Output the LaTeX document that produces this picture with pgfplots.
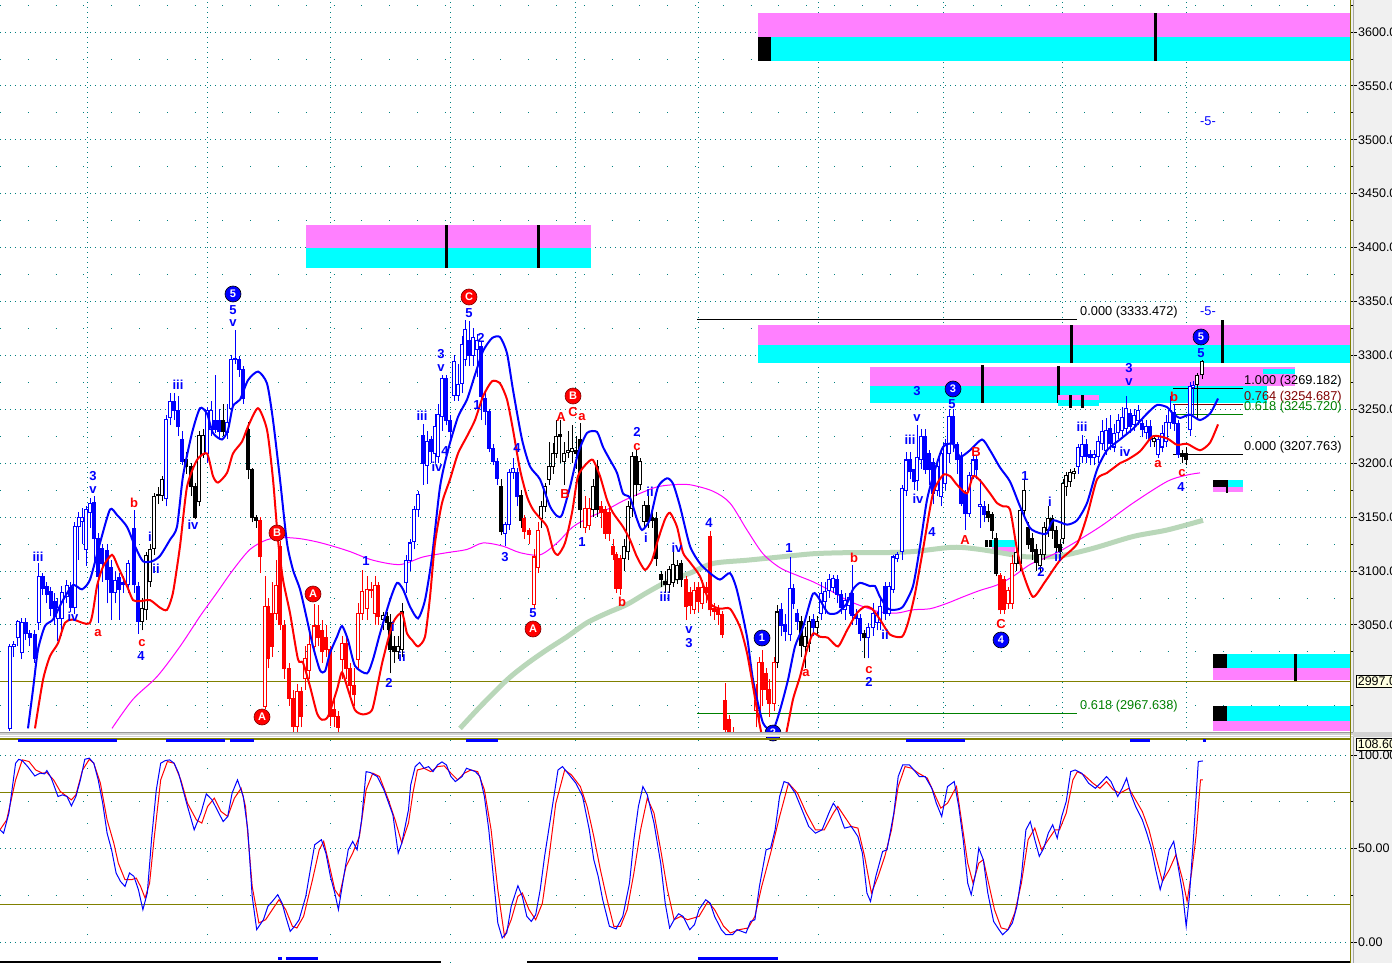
\documentclass[border=0pt]{standalone}
\usepackage{pgfplots}
\pgfplotsset{compat=1.18}
\usepackage{pgfplotstable}
\usepackage{fontspec}
\setmainfont{Liberation Sans}
\definecolor{pinkbox}{RGB}{255,128,255}
\definecolor{cyanbox}{RGB}{0,255,255}
\definecolor{gridteal}{RGB}{0,128,128}
\definecolor{olive2}{RGB}{128,128,0}
\definecolor{magline}{RGB}{255,0,255}
\definecolor{greenma}{RGB}{185,215,185}
\definecolor{darkred2}{RGB}{128,0,0}
\definecolor{fibgreen}{RGB}{0,128,0}
\definecolor{bluec}{RGB}{0,0,255}
\definecolor{redc}{RGB}{255,0,0}
\definecolor{rightbg}{RGB}{240,240,240}
\definecolor{lblbg}{RGB}{255,255,225}
\newcommand{\ticklblfont}{\fontsize{12.5}{13}\selectfont}
\newcommand{\wavefont}{\fontsize{13}{13}\selectfont\bfseries}
\newcommand{\circfont}{\fontsize{11}{11}\selectfont\bfseries}
\newcommand{\fibfont}{\fontsize{12.8}{13}\selectfont}

% ---------- candles: x open high low close ----------
\pgfplotstableread{
x o h l c
10 2954 3032 2952 3030
14 3030 3035 3020 3032
18 3038 3055 3030 3053
22 3024 3056 3018 3052
26 3052 3056 3036 3042
30 3042 3045 3030 3038
35 3041 3045 3015 3019
39 3052 3107 3045 3095
43 3095 3098 3078 3084
47 3086 3090 3070 3078
51 3081 3085 3058 3065
55 3072 3080 3050 3058
58 3056 3075 3035 3066
62 3056 3086 3040 3080
67 3076 3092 3070 3087
71 3085 3090 3062 3066
75 3066 3145 3060 3141
79 3141 3155 3110 3150
82 3146 3158 3125 3150
86 3120 3160 3105 3157
90 3154 3168 3140 3163
94 3164 3170 3105 3130
98 3130 3135 3052 3095
102 3121 3125 3090 3107
107 3119 3125 3070 3092
111 3103 3110 3055 3080
115 3080 3100 3070 3091
119 3094 3098 3055 3083
123 3089 3095 3080 3087
128 3087 3110 3080 3107
134 3139 3157 3080 3087
138 3086 3090 3042 3053
166 3167 3245 3160 3241
170 3242 3265 3235 3257
174 3257 3265 3240 3249
178 3249 3262 3225 3234
182 3222 3230 3198 3202
207 3209 3252 3200 3249
211 3231 3258 3225 3249
215 3240 3282 3228 3231
219 3240 3250 3222 3229
227 3228 3255 3222 3238
231 3251 3300 3245 3296
235 3296 3324 3292 3297
239 3296 3299 3280 3287
243 3287 3290 3255 3260
406 3089 3115 3080 3110
410 3110 3130 3100 3126
414 3127 3160 3120 3157
418 3157 3174 3150 3171
423 3226 3236 3180 3200
427 3198 3230 3181 3220
431 3222 3225 3200 3211
435 3209 3246 3200 3234
438 3206 3255 3200 3245
442 3243 3282 3230 3279
446 3279 3282 3235 3240
450 3240 3245 3222 3229
454 3263 3300 3258 3294
458 3263 3292 3258 3273
462 3274 3318 3265 3310
465 3296 3333 3290 3324
469 3314 3332 3290 3300
473 3300 3325 3290 3317
477 3305 3320 3280 3314
481 3308 3312 3240 3262
485 3260 3265 3235 3248
489 3248 3250 3210 3214
493 3214 3218 3198 3202
497 3202 3205 3180 3186
505 3135 3145 3123 3143
509 3143 3195 3138 3191
513 3191 3205 3185 3195
517 3191 3196 3160 3169
781 3064 3070 3040 3049
785 3050 3060 3035 3044
790 3041 3113 3035 3084
793 3084 3088 3065 3070
797 3061 3065 3045 3053
813 3055 3060 3040 3048
821 3061 3090 3055 3079
825 3072 3090 3060 3081
829 3082 3097 3075 3092
833 3085 3096 3080 3093
837 3092 3096 3070 3078
841 3078 3082 3060 3066
845 3064 3080 3055 3073
849 3068 3080 3060 3075
852 3079 3106 3050 3059
856 3060 3065 3050 3056
860 3056 3060 3035 3042
868 3038 3052 3019 3048
873 3048 3070 3040 3061
877 3052 3062 3045 3059
880 3052 3075 3045 3067
885 3086 3090 3055 3061
889 3061 3090 3058 3086
893 3083 3115 3080 3113
897 3112 3118 3108 3115
902 3118 3180 3110 3177
906 3175 3210 3170 3203
910 3203 3210 3185 3192
914 3194 3195 3175 3183
917 3184 3235 3175 3205
921 3203 3232 3195 3225
925 3225 3232 3190 3194
929 3209 3212 3180 3194
933 3201 3205 3162 3172
937 3175 3200 3170 3197
941 3169 3212 3160 3209
945 3181 3222 3175 3218
949 3209 3250 3200 3243
953 3243 3250 3210 3218
957 3217 3220 3190 3203
961 3205 3210 3160 3163
965 3172 3175 3138 3153
969 3153 3192 3150 3189
973 3189 3208 3185 3203
976 3203 3208 3185 3194
980 3160 3185 3140 3162
984 3160 3165 3145 3152
1078 3197 3218 3190 3215
1082 3206 3226 3200 3217
1086 3217 3222 3200 3206
1090 3208 3212 3198 3205
1094 3205 3212 3198 3208
1098 3206 3225 3200 3220
1102 3218 3240 3212 3229
1106 3212 3242 3208 3230
1110 3232 3245 3212 3218
1114 3215 3236 3210 3228
1118 3228 3246 3222 3240
1122 3230 3252 3225 3242
1126 3232 3262 3228 3251
1130 3246 3250 3228 3234
1134 3236 3250 3230 3244
1138 3240 3254 3235 3249
1142 3237 3240 3224 3231
1146 3228 3240 3222 3234
1150 3234 3240 3215 3222
1158 3208 3226 3205 3222
1162 3215 3235 3210 3228
1166 3220 3245 3215 3238
1170 3238 3262 3232 3249
1174 3247 3255 3230 3237
1178 3237 3240 3205 3208
1190 3231 3275 3225 3271
1193 3270 3276 3245 3272
}\tblue

\pgfplotstableread{
x o h l c
142 3053 3075 3045 3065
146 3064 3118 3055 3114
150 3090 3125 3085 3120
154 3121 3172 3115 3169
158 3170 3178 3162 3171
162 3170 3188 3165 3185
186 3203 3210 3190 3197
191 3197 3200 3170 3178
195 3178 3182 3148 3150
199 3164 3230 3160 3226
203 3208 3232 3205 3226
223 3240 3255 3225 3229
248 3231 3238 3185 3194
252 3194 3196 3145 3150
256 3150 3152 3140 3147
383 3055 3062 3045 3059
387 3058 3062 3045 3052
390 3052 3060 3005 3027
394 3030 3040 3015 3025
398 3025 3040 3018 3030
402 3027 3070 3020 3062
501 3178 3185 3133 3137
521 3170 3175 3140 3147
541 3149 3165 3140 3160
545 3160 3182 3155 3178
549 3185 3220 3180 3197
553 3197 3219 3190 3209
556 3209 3240 3205 3225
560 3227 3240 3200 3225
564 3202 3220 3180 3209
568 3210 3230 3205 3212
572 3211 3235 3200 3214
576 3212 3225 3195 3209
580 3222 3237 3140 3157
593 3157 3185 3150 3178
597 3197 3203 3150 3157
624 3112 3130 3100 3123
628 3118 3165 3110 3160
632 3158 3210 3150 3206
636 3206 3212 3170 3180
640 3180 3205 3175 3202
644 3146 3165 3140 3161
648 3161 3170 3140 3146
652 3150 3155 3140 3147
656 3149 3155 3105 3112
661 3097 3100 3085 3092
665 3090 3100 3080 3087
669 3087 3105 3080 3101
673 3089 3120 3085 3106
677 3092 3110 3088 3105
681 3107 3110 3085 3092
777 3015 3068 3010 3062
801 3053 3058 3020 3031
805 3030 3048 3010 3039
809 3033 3058 3025 3053
817 3048 3058 3042 3053
864 3042 3045 3019 3038
988 3155 3162 3145 3150
992 3152 3155 3130 3138
996 3130 3135 3095 3098
1016 3107 3120 3100 3117
1020 3107 3160 3100 3156
1024 3156 3185 3150 3175
1028 3140 3145 3120 3125
1032 3130 3135 3110 3118
1036 3120 3125 3100 3108
1040 3105 3120 3098 3115
1044 3115 3145 3110 3140
1048 3138 3160 3132 3149
1052 3149 3152 3130 3138
1056 3138 3142 3118 3122
1060 3125 3130 3112 3118
1063 3130 3185 3125 3181
1066 3178 3192 3170 3189
1070 3183 3195 3178 3191
1074 3190 3196 3185 3192
1154 3220 3226 3215 3223
1182 3209 3212 3200 3206
1186 3209 3215 3198 3203
1197 3273 3284 3240 3281
1202 3282 3296 3278 3294
}\tblack

\pgfplotstableread{
x o h l c
260 3147 3150 3098 3113
265 2974 3095 2972 3067
268 3067 3075 3010 3019
272 3061 3090 3020 3030
276 3061 3110 3055 3087
280 3123 3128 3045 3050
284 3049 3055 3000 3010
289 3010 3015 2975 2982
293 2982 2990 2950 2956
297 2956 2995 2950 2988
301 2988 2992 2955 2965
305 3000 3030 2990 3019
309 3008 3045 3000 3032
314 3030 3069 3025 3049
318 3049 3068 3030 3038
322 3045 3055 3015 3025
326 3038 3050 3020 3027
330 3027 3030 2956 2965
334 2972 2980 2955 2965
338 2965 2970 2950 2955
342 3018 3040 3000 3033
346 3033 3040 3000 3010
350 3010 3015 2985 2994
354 2994 3010 2975 2985
358 3018 3070 3010 3061
362 3061 3101 3055 3081
367 3065 3095 3055 3083
371 3083 3090 3075 3082
375 3061 3095 3050 3087
378 3087 3090 3050 3058
524 3149 3152 3130 3137
529 3138 3140 3125 3134
534 3069 3120 3065 3113
538 3103 3145 3098 3138
585 3140 3170 3135 3158
589 3142 3168 3138 3158
601 3160 3165 3140 3154
605 3157 3160 3130 3135
609 3154 3158 3128 3135
613 3123 3130 3110 3115
616 3115 3118 3080 3084
620 3112 3115 3078 3084
686 3092 3095 3055 3067
690 3080 3085 3060 3068
694 3064 3090 3060 3082
698 3085 3090 3062 3072
702 3070 3092 3065 3085
706 3085 3090 3070 3080
710 3132 3137 3058 3064
714 3065 3070 3055 3062
718 3064 3068 3050 3060
722 3060 3063 3038 3041
725 2980 2996 2940 2953
729 2962 2966 2940 2950
733 2950 2955 2930 2940
738 2945 2950 2925 2935
742 2930 2948 2920 2945
746 2940 2945 2925 2930
750 2928 2945 2920 2940
756 2971 2995 2955 2980
759 2971 3020 2955 3015
762 3015 3027 2975 2990
766 3005 3010 2980 2990
769 2990 3000 2965 2977
774 2977 3020 2970 3015
1000 3096 3098 3060 3064
1004 3092 3095 3060 3064
1008 3070 3085 3065 3082
1012 3070 3115 3065 3107
}\tred

% ---------- indicator lines ----------
\pgfplotstableread{
x y
28 2954
33 2990
38 3027
45 3049
53 3055
63 3073
73 3087
82 3083
90 3092
100 3126
110 3157
117 3152
127 3141
135 3123
143 3109
152 3109
160 3114
170 3129
177 3141
183 3188
192 3228
200 3251
207 3246
213 3228
222 3222
228 3231
233 3253
240 3259
248 3277
258 3285
267 3274
273 3240
280 3185
287 3126
293 3101
300 3083
307 3055
313 3030
320 3008
325 3007
330 3024
337 3039
342 3049
348 3036
355 3012
367 3005
373 3018
380 3042
390 3073
397 3089
403 3083
410 3067
418 3056
425 3073
432 3113
440 3178
448 3212
458 3243
467 3259
475 3282
483 3304
492 3316
500 3317
507 3302
513 3268
522 3222
530 3197
540 3185
550 3160
557 3151
562 3152
570 3178
578 3209
587 3228
597 3229
603 3215
610 3203
617 3191
623 3172
630 3168
637 3148
642 3138
650 3148
658 3178
667 3186
673 3181
680 3160
690 3123
700 3107
710 3098
720 3092
730 3098
737 3082
747 3039
753 2999
763 2959
773 2953
780 2971
788 2999
795 3030
803 3048
813 3079
820 3073
828 3061
837 3061
847 3070
853 3083
860 3089
870 3086
875 3086
880 3076
888 3065
895 3064
903 3067
913 3086
920 3123
927 3166
935 3194
943 3215
953 3218
960 3206
970 3212
982 3222
990 3212
1000 3196
1010 3183
1020 3160
1030 3140
1040 3135
1047 3135
1053 3147
1067 3143
1077 3147
1087 3163
1097 3194
1107 3212
1120 3222
1133 3232
1147 3246
1157 3254
1167 3252
1173 3246
1180 3242
1190 3245
1200 3240
1210 3246
1218 3260
}\tbandup

\pgfplotstableread{
x y
35 2954
43 2999
50 3021
58 3033
65 3052
73 3055
90 3052
97 3086
103 3104
112 3115
118 3104
127 3086
133 3073
140 3072
150 3073
160 3066
167 3064
173 3080
180 3123
187 3178
197 3203
207 3209
213 3188
218 3182
227 3191
233 3209
242 3220
248 3234
258 3251
267 3231
273 3185
278 3129
283 3092
290 3061
298 3018
303 3015
310 2993
317 2968
322 2962
328 2965
337 2990
342 3006
348 2990
355 2971
363 2967
372 2971
378 2996
383 3018
393 3052
402 3061
407 3042
412 3036
418 3030
425 3039
430 3076
435 3126
442 3163
450 3185
458 3209
467 3225
475 3240
483 3262
492 3276
500 3274
507 3259
513 3231
520 3194
527 3169
533 3157
540 3149
547 3141
553 3120
558 3115
565 3126
572 3154
578 3188
587 3200
593 3203
600 3188
607 3166
613 3154
623 3141
630 3129
637 3113
645 3101
652 3110
658 3129
665 3148
670 3154
677 3141
683 3117
690 3108
700 3095
710 3070
720 3065
730 3065
740 3048
747 3024
753 2993
760 2956
765 2940
783 2940
787 2953
793 2981
800 3002
807 3027
813 3042
820 3039
828 3038
838 3030
847 3045
857 3061
865 3067
872 3065
880 3055
890 3041
902 3039
908 3052
915 3079
923 3120
933 3172
943 3189
950 3188
957 3180
967 3172
973 3188
980 3184
990 3172
997 3163
1003 3160
1010 3157
1017 3120
1023 3098
1033 3076
1045 3090
1060 3110
1077 3125
1087 3151
1097 3185
1107 3191
1120 3200
1127 3203
1140 3211
1153 3225
1167 3223
1177 3217
1187 3218
1200 3212
1210 3219
1218 3236
}\tbanddn

\pgfplotstableread{
x y
112 2954
133 2981
157 3002
180 3030
200 3058
217 3080
233 3101
250 3120
267 3129
283 3131
300 3130
317 3127
333 3123
350 3118
373 3110
400 3106
423 3113
447 3117
467 3120
483 3126
503 3123
520 3117
540 3115
557 3126
573 3141
590 3150
607 3157
623 3165
640 3172
657 3178
673 3180
690 3180
713 3174
730 3163
747 3138
763 3116
780 3103
797 3096
813 3090
830 3082
847 3073
863 3067
880 3062
897 3061
913 3064
930 3065
947 3070
963 3076
980 3082
997 3087
1013 3095
1030 3106
1045 3112
1063 3120
1100 3141
1133 3163
1167 3183
1187 3189
1200 3191
}\tmag

\pgfplotstableread{
x y
460 2954
480 2974
507 2999
527 3014
547 3027
567 3039
587 3052
607 3061
627 3069
647 3080
667 3090
690 3098
713 3107
747 3110
780 3113
813 3116
847 3117
880 3117
913 3118
953 3122
980 3120
1013 3115
1030 3113
1060 3114
1093 3121
1133 3132
1167 3138
1203 3147
}\tgreen

% ---------- stochastic ----------
\pgfplotstableread{
x y
0 60.0
3.6 58.2
8.9 68.9
15.6 95.6
18.8 97.7
22.3 97.0
27.7 93.8
34.8 88.8
40.2 90.3
44.6 89.9
46.9 91.7
51.3 87.6
58.0 77.8
62.5 78.7
67.0 77.8
71.4 72.8
75.9 77.8
80.4 86.7
84.8 97.7
89.3 98.3
93.8 95.6
98.2 86.7
102.7 74.2
107.1 58.2
111.6 49.3
116.1 36.9
120.5 32.4
125.0 29.7
129.5 36.9
133.9 35.1
138.4 28.0
142.9 17.3
147.3 26.2
151.8 56.4
156.3 81.4
160.7 95.6
165.2 97.0
169.6 97.4
174.1 95.6
178.6 90.3
183.0 81.4
187.5 72.5
194.2 60.0
200.9 68.9
206.3 79.2
212.1 76.0
218.8 68.9
223.2 64.4
227.7 67.1
232.1 79.6
237.5 86.7
243.3 77.8
247.8 60.0
252.2 24.4
256.7 6.6
263.4 11.9
267.9 19.1
272.3 21.7
277.7 25.3
282.1 20.8
285.7 13.7
290.2 5.7
294.6 8.4
299.1 11.9
305.8 24.4
310.3 38.6
314.7 52.0
321.4 54.7
325.9 47.5
330.4 35.1
334.8 26.2
338.4 17.3
343.8 35.1
348.2 49.3
352.7 53.8
357.1 49.3
361.6 65.3
366.1 91.1
370.5 90.6
377.2 88.5
383.9 81.4
392.9 68.0
398.2 47.5
401.8 52.9
408.5 70.7
410.7 84.0
415.2 93.8
419.6 96.0
424.1 92.9
428.6 93.8
433.0 91.1
437.5 94.7
442.0 96.3
446.4 94.7
450.9 88.5
455.4 85.8
462.1 88.5
466.5 92.9
471.0 92.0
475.4 91.1
479.9 88.5
484.4 77.8
488.8 60.0
493.3 35.1
497.8 10.2
502.2 2.2
506.7 4.8
511.2 19.1
517.9 30.1
522.3 24.4
526.8 13.7
531.3 11.0
535.7 14.6
540.2 28.0
544.6 45.8
551.3 68.9
558.0 92.0
562.5 93.8
569.2 89.4
575.9 84.9
582.6 77.8
589.3 60.0
593.8 44.0
598.2 35.1
602.7 22.6
609.4 8.4
616.1 7.0
622.8 13.7
629.5 31.5
633.9 54.7
638.4 72.5
642.9 83.1
647.3 78.7
654.0 63.6
660.7 42.2
665.2 20.8
669.6 7.5
674.1 11.9
678.6 15.1
683.0 13.7
689.7 6.6
694.5 9.3
699.0 17.3
705.7 22.6
710.2 20.8
714.6 13.7
721.3 6.6
725.8 3.9
732.5 3.9
737.0 6.6
746.0 4.8
750.5 11.0
754.9 11.9
759.4 29.7
766.1 49.3
770.6 50.2
775.1 60.0
779.6 77.8
784.0 85.8
788.5 84.9
795.2 79.6
802.0 70.7
808.7 61.8
815.4 58.2
822.1 60.0
828.8 68.9
833.3 74.2
837.8 70.7
844.5 60.9
851.2 61.8
857.9 56.4
862.4 47.5
866.9 26.2
870.5 21.7
875.8 35.1
882.6 48.4
887.0 49.3
893.8 68.9
898.2 88.5
902.7 94.7
909.4 94.7
913.9 92.0
919.3 88.5
925.1 88.5
931.8 82.2
936.3 74.2
941.7 67.1
947.5 83.1
954.2 85.8
958.7 72.5
963.2 54.7
967.7 31.5
971.2 25.3
975.7 36.9
978.8 50.2
983.3 44.0
987.8 26.2
993.6 11.0
999.0 6.6
1002.6 3.9
1008.0 6.6
1012.4 10.2
1016.9 19.1
1021.4 35.1
1025.9 60.0
1030.3 64.4
1034.8 54.7
1039.3 45.8
1043.8 50.2
1048.3 58.2
1052.7 62.7
1057.2 55.5
1061.7 67.1
1066.2 75.1
1070.7 91.1
1075.1 92.0
1081.9 90.2
1088.6 84.9
1095.3 82.2
1102.0 85.8
1106.5 88.5
1111.0 85.8
1117.7 77.8
1122.2 82.2
1126.6 87.6
1131.1 78.7
1135.6 72.5
1142.3 65.3
1146.8 58.2
1151.3 50.2
1155.7 38.6
1160.2 28.0
1164.7 36.9
1169.2 49.3
1173.7 53.8
1178.1 40.4
1182.6 26.2
1186.2 8.4
1189.4 24.4
1193.8 58.2
1196.1 77.8
1198.3 96.5
1202.8 96.8
}\tstk

\pgfplotstableread{
x y
0 60.0
6.7 65.3
11.2 76.0
15.6 86.7
22.3 97.4
29.0 96.5
35.7 92.0
42.4 90.3
46.9 90.6
53.6 86.7
60.3 80.5
67.0 77.8
71.4 76.0
75.9 78.7
82.6 92.0
89.3 97.7
93.8 95.6
100.4 84.9
107.1 65.3
113.8 52.9
118.3 42.2
125.0 33.3
131.7 33.3
136.2 34.2
140.6 29.7
145.1 23.5
149.6 31.5
154.0 54.7
160.7 86.7
167.4 96.5
174.1 95.6
180.8 86.7
187.5 74.2
196.4 65.3
201.8 63.6
207.6 72.5
214.3 76.9
221.0 69.8
227.7 67.1
234.4 76.9
241.1 82.2
245.5 72.5
252.2 29.7
258.9 10.2
265.6 11.9
272.3 17.3
279.0 22.6
285.7 17.3
292.4 8.4
296.9 7.5
303.6 13.7
312.5 33.3
319.2 49.3
323.7 53.8
328.1 44.0
334.8 28.0
339.3 24.4
346.0 40.4
352.7 47.5
359.4 56.4
366.1 81.4
372.8 90.3
379.5 88.5
388.4 76.0
395.1 65.3
401.8 52.9
408.5 63.6
412.9 79.6
417.4 92.0
424.1 92.9
430.8 91.1
437.5 93.8
444.2 94.2
450.9 90.3
457.6 86.7
464.3 90.3
471.0 92.0
477.7 91.1
484.4 81.4
491.1 60.0
497.8 28.0
504.5 3.0
511.2 11.9
517.9 24.4
522.3 26.2
529.0 17.3
535.7 11.9
542.4 20.8
549.1 45.8
555.8 74.2
564.7 92.0
571.4 89.4
580.4 83.1
587.1 72.5
593.8 56.4
600.4 38.6
607.1 22.6
613.8 8.4
620.5 8.4
627.2 17.3
633.9 36.9
640.6 60.0
647.3 76.9
654.0 68.9
660.7 49.3
667.4 28.0
674.1 11.9
680.8 13.7
687.5 11.9
699.0 13.7
707.9 21.7
714.6 17.3
723.6 8.4
730.3 4.8
739.3 6.6
748.2 7.5
754.9 13.7
761.7 29.7
770.6 47.5
779.6 67.1
788.5 84.9
797.5 79.6
806.4 68.9
815.4 60.0
824.3 60.0
833.3 68.9
837.8 72.5
844.5 67.1
851.2 61.8
857.9 60.9
864.6 45.8
871.4 26.2
878.1 35.1
884.8 45.8
891.5 60.0
898.2 83.1
905.0 93.8
911.7 92.9
918.4 90.3
927.3 87.6
934.1 79.6
940.8 71.6
947.5 74.2
956.5 83.1
960.9 67.1
967.7 42.2
973.0 31.5
978.8 42.2
983.3 44.0
987.8 33.3
994.5 17.3
1001.2 7.5
1008.0 6.6
1014.7 15.5
1021.4 31.5
1028.1 54.7
1034.8 60.9
1041.6 49.3
1048.3 54.7
1055.0 60.0
1059.5 60.0
1066.2 68.9
1072.9 86.7
1077.4 91.1
1084.1 89.3
1093.0 84.9
1099.8 82.2
1106.5 85.8
1113.2 81.4
1119.9 79.6
1128.9 82.2
1135.6 76.0
1142.3 69.8
1149.0 60.0
1155.7 45.8
1162.4 32.4
1169.2 38.6
1175.9 46.7
1182.6 33.3
1187.1 21.7
1191.5 36.9
1196.0 56.4
1200.5 86.7
1202.8 86.7
}\tstd

% ---------- helpers ----------
\newcommand{\candles}[2]{%
\addplot[draw=#2, line width=1pt, mark=none, forget plot,
  quiver={u=0, v=\thisrow{h}-\thisrow{l}}]
  table[x=x, y=l] {#1};
\addplot[draw=#2, line width=3.6pt, mark=none, forget plot,
  quiver={u=0, v={abs(\thisrow{c}-\thisrow{o})+0.9}}]
  table[x=x, y expr={min(\thisrow{o},\thisrow{c})-0.45}] {#1};
\addplot[draw=white, line width=1.6pt, mark=none, forget plot,
  quiver={u=0, v={max(\thisrow{c}-\thisrow{o}-1.0,0)}}]
  table[x=x, y expr={\thisrow{o}+0.5}] {#1};
}
\newcommand{\rect}[5]{\addplot[fill=#5, draw=none, forget plot] coordinates {(#1,#2) (#3,#2) (#3,#4) (#1,#4)} -- cycle;}
\newcommand{\vbar}[3]{\addplot[black, line width=3pt, forget plot] coordinates {(#1,#2) (#1,#3)};}
\newcommand{\bl}[3]{\node[font=\wavefont, text=bluec, inner sep=0pt] at (axis cs:#1,#2) {#3};}
\newcommand{\rl}[3]{\node[font=\wavefont, text=redc, inner sep=0pt] at (axis cs:#1,#2) {#3};}
\newcommand{\cbl}[3]{\node[circle, fill=bluec, draw=black, line width=0.6pt, inner sep=0pt, minimum size=16pt, text=white, font=\circfont] at (axis cs:#1,#2) {#3};}
\newcommand{\crd}[3]{\node[circle, fill=redc, draw=darkred2, line width=0.6pt, inner sep=0pt, minimum size=16pt, text=white, font=\circfont] at (axis cs:#1,#2) {#3};}

\pgfplotsset{
  chartax/.style={scale only axis, width=1350pt, xmin=0, xmax=1350,
    axis line style={draw=none},
    xtick={87,207,330,450,575,698,818,943,1062,1186}, xticklabels={}, xtick style={draw=none},
    ytick pos=right, yticklabel pos=right, tick align=outside,
    major tick length=7pt, minor tick length=4pt,
    ytick style={draw=black, line width=0.8pt},
    xmajorgrids, ymajorgrids, yminorgrids,
    major x grid style={draw=gridteal, line width=0.8pt, dash pattern=on 0.8pt off 4.2pt},
    major y grid style={draw=gridteal, line width=0.8pt, dash pattern=on 0.8pt off 4.2pt},
    minor y grid style={draw=gridteal, line width=0.8pt, dash pattern=on 0.8pt off 27pt},
    yticklabel style={font=\ticklblfont, inner sep=1pt},
  }
}

\begin{document}
\begin{tikzpicture}[x=1pt,y=1pt]
\useasboundingbox (0,0) rectangle (1392,963);
\fill[white] (0,0) rectangle (1350,963);
\fill[rightbg] (1350,0) rectangle (1392,963);

% ================= upper panel =================
\begin{axis}[chartax, at={(0pt,230pt)}, anchor=south west, height=733pt,
  ymin=2949.73, ymax=3629.68,
  ytick={3050,3100,3150,3200,3250,3300,3350,3400,3450,3500,3550,3600},
  yticklabels={3050.00,3100.00,3150.00,3200.00,3250.00,3300.00,3350.00,3400.00,3450.00,3500.00,3550.00,3600.00},
  minor ytick={2975,3025,3075,3125,3175,3225,3275,3325,3375,3425,3475,3525,3575,3625}]
% boxes
\rect{758}{3595.4}{1350}{3617.6}{pinkbox}
\rect{758}{3573.1}{1350}{3595.4}{cyanbox}
\rect{758}{3573.1}{771}{3595.4}{black}
\vbar{1155}{3573.1}{3617.6}
\rect{306}{3399.6}{591}{3421.0}{pinkbox}
\rect{306}{3381.1}{591}{3399.6}{cyanbox}
\vbar{446}{3381.1}{3421.0}
\vbar{538}{3381.1}{3421.0}
\rect{758}{3309.6}{1350}{3328.2}{pinkbox}
\rect{758}{3292.9}{1350}{3309.6}{cyanbox}
\vbar{1071}{3292.9}{3328.2}
\vbar{1222}{3292.9}{3332.8}
\rect{870}{3271.6}{1295}{3289.2}{pinkbox}
\rect{870}{3255.8}{1267}{3271.6}{cyanbox}
\rect{1263}{3282.5}{1295}{3287.5}{cyanbox}
\vbar{982}{3255.8}{3291.0}
\vbar{1058}{3255.8}{3290.2}
\rect{1058}{3258.6}{1099}{3263.3}{pinkbox}
\rect{1058}{3253.1}{1099}{3258.6}{cyanbox}
\vbar{1070}{3251.2}{3263.3}
\vbar{1082}{3251.2}{3263.3}
\rect{1213}{3177.9}{1227}{3184.4}{black}
\rect{1227}{3177.9}{1243}{3184.4}{cyanbox}
\rect{1213}{3173.3}{1243}{3177.9}{pinkbox}
\addplot[black, line width=2pt, forget plot] coordinates {(1227,3172.4) (1227,3184.4)};
\rect{1213}{3010.0}{1350}{3023.0}{cyanbox}
\rect{1213}{2998.9}{1350}{3010.0}{pinkbox}
\rect{1213}{3010.0}{1227}{3023.0}{black}
\vbar{1295}{2998.0}{3023.0}
\rect{1213}{2960.9}{1350}{2974.8}{cyanbox}
\rect{1213}{2951.6}{1350}{2960.9}{pinkbox}
\rect{1213}{2960.9}{1227}{2974.8}{black}
\rect{992}{3122.3}{1015}{3128.8}{cyanbox}
\rect{992}{3116.7}{1015}{3122.3}{pinkbox}
\rect{985}{3122.3}{988}{3128.8}{black}
\rect{989}{3122.3}{992}{3128.8}{black}
% horizontal reference lines
\addplot[olive2, line width=1pt, forget plot] coordinates {(0,2997.5) (1350,2997.5)};
\addplot[black, line width=0.8pt, forget plot] coordinates {(697,3333.47) (1077,3333.47)};
\addplot[fibgreen, line width=0.8pt, forget plot] coordinates {(697,2967.64) (1077,2967.64)};
\addplot[black, line width=0.8pt, forget plot] coordinates {(1173,3269.18) (1243,3269.18)};
\addplot[darkred2, line width=0.8pt, forget plot] coordinates {(1173,3254.69) (1243,3254.69)};
\addplot[fibgreen, line width=0.8pt, forget plot] coordinates {(1173,3245.72) (1243,3245.72)};
\addplot[black, line width=0.8pt, forget plot] coordinates {(1173,3207.76) (1243,3207.76)};
% moving averages
\addplot[greenma, line width=5pt, smooth, forget plot] table[x=x,y=y] {\tgreen};
\addplot[magline, line width=1pt, smooth, forget plot] table[x=x,y=y] {\tmag};
% candles
\candles{\tblack}{black}
\candles{\tred}{redc}
\candles{\tblue}{bluec}
% bands
\addplot[bluec, line width=2pt, smooth, tension=0.4, forget plot] table[x=x,y=y] {\tbandup};
\addplot[redc, line width=2pt, smooth, tension=0.4, forget plot] table[x=x,y=y] {\tbanddn};
\end{axis}

% ================= labels (pixel overlay) =================
\begin{axis}[at={(0pt,230pt)}, anchor=south west, scale only axis, width=1350pt, height=733pt,
  xmin=0, xmax=1350, ymin=0, ymax=733, y dir=reverse, hide axis, clip=false]
\bl{38}{557}{iii}\bl{93}{476}{3}\bl{93}{490}{v}\bl{73}{617}{iv}
\bl{150}{537}{i}\bl{156}{569}{ii}\bl{141}{656}{4}
\bl{178}{385}{iii}\bl{193}{525}{iv}\bl{233}{310}{5}\bl{233}{323}{v}
\bl{366}{561}{1}\bl{393}{627}{i}\bl{389}{683}{2}\bl{402}{657}{ii}
\bl{422}{416}{iii}\bl{437}{467}{iv}\bl{445}{451}{4}\bl{441}{354}{3}\bl{441}{368}{v}
\bl{469}{313}{5}\bl{481}{338}{2}\bl{477}{405}{1}\bl{517}{448}{4}\bl{505}{557}{3}\bl{533}{613}{5}
\bl{582}{542}{1}\bl{637}{432}{2}\bl{650}{492}{ii}\bl{646}{538}{i}\bl{665}{597}{iii}\bl{677}{548}{iv}
\bl{689}{630}{v}\bl{689}{643}{3}\bl{709}{523}{4}\bl{789}{548}{1}\bl{869}{682}{2}\bl{885}{635}{ii}
\bl{910}{440}{iii}\bl{917}{418}{v}\bl{918}{499}{iv}\bl{932}{532}{4}\bl{917}{391}{3}\bl{952}{404}{5}
\bl{1025}{476}{1}\bl{1050}{502}{i}\bl{1058}{557}{ii}\bl{1041}{572}{2}
\bl{1082}{427}{iii}\bl{1125}{452}{iv}\bl{1129}{368}{3}\bl{1129}{382}{v}\bl{1181}{487}{4}
\bl{1201}{353}{5}
\node[font=\fibfont, text=bluec] at (axis cs:1208,311) {-5-};
\node[font=\fibfont, text=bluec] at (axis cs:1208,121) {-5-};
\rl{98}{633}{a}\rl{134}{503}{b}\rl{142}{643}{c}
\rl{561}{417}{A}\rl{573}{412}{C}\rl{582}{417}{a}\rl{565}{494}{B}\rl{637}{447}{c}\rl{622}{602}{b}
\rl{806}{673}{a}\rl{854}{558}{b}\rl{869}{670}{c}\rl{976}{452}{B}\rl{965}{540}{A}\rl{1001}{624}{C}
\rl{1158}{464}{a}\rl{1174}{397}{b}\rl{1182}{473}{c}
\cbl{233}{294}{5}\cbl{762}{638}{1}\cbl{773}{733}{2}\cbl{953}{389}{3}\cbl{1001}{640}{4}\cbl{1201}{337}{5}
\crd{277}{533}{B}\crd{313}{594}{A}\crd{262}{717}{A}\crd{469}{297}{C}\crd{533}{629}{A}\crd{573}{396}{B}
% fib labels
\node[anchor=west, font=\fibfont, text=black, inner sep=0pt] at (axis cs:1080,312) {0.000 (3333.472)};
\node[anchor=west, font=\fibfont, text=fibgreen, inner sep=0pt] at (axis cs:1080,706) {0.618 (2967.638)};
\node[anchor=west, font=\fibfont, text=black, inner sep=0pt] at (axis cs:1244,381) {1.000 (3269.182)};
\node[anchor=west, font=\fibfont, text=darkred2, inner sep=0pt] at (axis cs:1244,397) {0.764 (3254.687)};
\node[anchor=west, font=\fibfont, text=fibgreen, inner sep=0pt] at (axis cs:1244,407) {0.618 (3245.720)};
\node[anchor=west, font=\fibfont, text=black, inner sep=0pt] at (axis cs:1244,447) {0.000 (3207.763)};
\end{axis}

% ================= lower panel =================
\begin{axis}[chartax, at={(0pt,0pt)}, anchor=south west, height=226pt,
  ymin=-11.23, ymax=109.63,
  ytick={0,50,100}, yticklabels={0.00,50.00,100.00}, minor ytick={25,75},
  major x grid style={draw=gridteal, line width=0.8pt, dash pattern=on 0.8pt off 27pt}]
\addplot[olive2, line width=1pt, forget plot] coordinates {(0,20) (1350,20)};
\addplot[olive2, line width=1pt, forget plot] coordinates {(0,80) (1350,80)};
\addplot[olive2, line width=1.2pt, forget plot] coordinates {(0,108.6) (1350,108.6)};
\addplot[redc, line width=1pt, forget plot] table[x=x,y=y] {\tstd};
\addplot[bluec, line width=1pt, forget plot] table[x=x,y=y] {\tstk};
\addplot[bluec, line width=3pt, forget plot] coordinates {(18,108) (117,108)};
\addplot[bluec, line width=3pt, forget plot] coordinates {(166,108) (225,108)};
\addplot[bluec, line width=3pt, forget plot] coordinates {(230,108) (254,108)};
\addplot[bluec, line width=3pt, forget plot] coordinates {(466,108) (498,108)};
\addplot[bluec, line width=3pt, forget plot] coordinates {(906,108) (965,108)};
\addplot[bluec, line width=3pt, forget plot] coordinates {(1130,108) (1150,108)};
\addplot[bluec, line width=3pt, forget plot] coordinates {(1203,108) (1206,108)};
\addplot[bluec, line width=3pt, forget plot] coordinates {(278,-8.8) (282,-8.8)};
\addplot[bluec, line width=3pt, forget plot] coordinates {(286,-8.8) (318,-8.8)};
\addplot[bluec, line width=3pt, forget plot] coordinates {(698,-8.8) (778,-8.8)};
\addplot[black, line width=1.5pt, forget plot] coordinates {(0,-10.7) (441,-10.7)};
\addplot[black, line width=1.5pt, forget plot] coordinates {(527,-10.7) (1350,-10.7)};
\end{axis}

% frame decorations and value boxes
\fill[gray!35] (0,226) rectangle (1392,231);
\draw[gray!80, line width=0.8pt] (0,230.5) -- (1392,230.5);
\draw[white, line width=0.8pt] (0,228) -- (1392,228);
\draw[olive2, line width=1pt] (1350.5,0) -- (1350.5,963);
\draw[gray!70, line width=0.8pt] (1353,0) -- (1353,963);
\node[draw=black, fill=lblbg, anchor=west, font=\ticklblfont, inner sep=1.5pt, line width=0.6pt] at (1356,282) {2997.00};
\node[draw=black, fill=lblbg, anchor=west, font=\ticklblfont, inner sep=1.5pt, line width=0.6pt] at (1356,219) {108.60};
\fill[gray!35] (1353,226) rectangle (1392,231);
\end{tikzpicture}
\end{document}
